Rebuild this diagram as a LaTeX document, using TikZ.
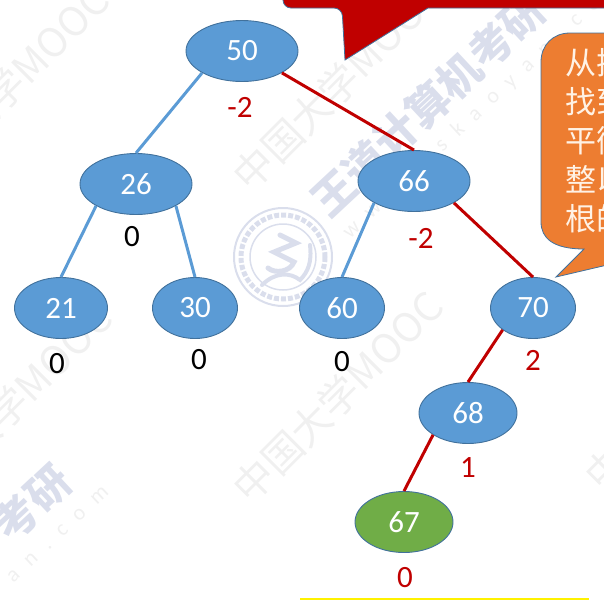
\documentclass[tikz,border=0pt]{standalone}
\usepackage{fontspec}
\usetikzlibrary{shapes.geometric}
\setmainfont{Carlito}
\newfontfamily\cjk{Noto Sans CJK SC}
\newfontfamily\urlfont[LetterSpace=60]{Carlito}
\definecolor{nodeblue}{RGB}{91,155,213}
\definecolor{nodeedge}{RGB}{65,113,156}
\definecolor{nodegreen}{RGB}{112,173,71}
\definecolor{calloutorange}{RGB}{237,125,49}
\definecolor{darkred}{RGB}{192,0,0}
\definecolor{wmgrey}{RGB}{240,240,240}
\definecolor{wmblue}{RGB}{218,222,236}
\tikzset{
  treenode/.style={ellipse,draw=nodeedge,line width=0.9pt,fill=nodeblue,text=white,font=\fontsize{31}{31}\selectfont,inner sep=0pt},
  blueedge/.style={draw=nodeblue,line width=3pt},
  rededge/.style={draw=darkred,line width=3pt},
  redlabel/.style={text=darkred,font=\fontsize{31}{31}\selectfont,inner sep=0pt},
  blacklabel/.style={text=black,font=\fontsize{31}{31}\selectfont,inner sep=0pt},
  wmthin/.style={text=wmgrey,font=\cjk\fontsize{40}{40}\selectfont,rotate=45,inner sep=0pt},
  wmbold/.style={text=wmblue,font=\cjk\bfseries\fontsize{43}{43}\selectfont,rotate=43,inner sep=0pt},
  wmurl/.style={text=wmgrey,font=\urlfont\fontsize{22}{22}\selectfont,rotate=43,inner sep=0pt},
  callouttext/.style={text=white!90!orange,font=\cjk\fontsize{31}{39}\selectfont,anchor=north west,align=left,inner sep=0pt}
}
\begin{document}
\begin{tikzpicture}[x=1pt,y=-1pt]
\useasboundingbox (0,0) rectangle (604,600);
\clip (0,0) rectangle (604,600);
% watermarks
\node[wmthin] (w1) at (338,397) {中国大学MOOC};
\node[wmthin] (w2) at (338,85) {中国大学MOOC};
\node[wmthin] (w3) at (32,62) {大学MOOC};
\node[wmthin] (w4) at (690,385) {中国大学MOOC};
\node[wmthin] (w5) at (35,380) {大学MOOC};
\node[wmbold] (w6) at (428,105) {王道计算机考研};
\node[wmbold] (w7) at (32,503) {考研};
\node[wmurl] (w8) at (483,107) {www.cskaoyan.com};
\node[wmurl] (w9) at (58,535) {an.com};
% emblem
\draw[wmblue,line width=2pt] (283,257) circle (49);
\draw[wmblue,line width=5pt,dotted] (283,257) circle (42);
\draw[wmblue,line width=1.5pt] (283,257) circle (33);
\draw[wmblue,line width=5pt,line cap=round] (280,235) -- (296,243) -- (274,252) -- (294,262) .. controls (290,272) and (275,274) .. (268,268);
\draw[wmblue,line width=4pt,line cap=round] (262,285) .. controls (275,272) and (290,272) .. (300,280) .. controls (308,272) and (312,262) .. (310,245);
% red callout
\fill[darkred,draw=nodeedge,line width=0.8pt,rounded corners=8pt] (283,-20) -- (283,8) -- (342,8) [sharp corners] -- (345,60) -- (428,8) -- (620,8) -- (620,-20) -- cycle;
% orange callout
\draw[fill=calloutorange,draw=nodeedge,line width=0.8pt] (620,33) -- (570,33) .. controls (553,33) and (541,45) .. (541,62) -- (541,222) .. controls (541,238) and (553,249) .. (584,249) -- (556,277) -- (620,262) -- cycle;
\node[callouttext] (c1) at (565,48) {从插\\找到\\平衡\\整以\\根的};
% nodes
\node[treenode,minimum width=112pt,minimum height=61pt] (n50) at (242,51) {50};
\node[treenode,minimum width=112pt,minimum height=61pt] (n26) at (136,184) {26};
\node[treenode,minimum width=112pt,minimum height=61pt] (n66) at (414,181) {66};
\node[treenode,minimum width=93pt,minimum height=61pt] (n21) at (61,308) {21};
\node[treenode,minimum width=85pt,minimum height=61pt] (n30) at (195,308) {30};
\node[treenode,minimum width=85pt,minimum height=61pt] (n60) at (342,308) {60};
\node[treenode,minimum width=85pt,minimum height=61pt] (n70) at (533,308) {70};
\node[treenode,minimum width=98pt,minimum height=61pt] (n68) at (468,413) {68};
\node[treenode,fill=nodegreen,minimum width=98pt,minimum height=61pt] (n67) at (404,522) {67};
% edges
\draw[blueedge] (n50.south west) -- (n26.north);
\draw[rededge] (n50.south east) -- (n66.north);
\draw[blueedge] (n26.south west) -- (n21.north);
\draw[blueedge] (n26.south east) -- (n30.north);
\draw[blueedge] (n66.south west) -- (n60.north);
\draw[rededge] (n66.south east) -- (n70.north);
\draw[rededge] (n70.south west) -- (n68.north);
\draw[rededge] (n68.south west) -- (n67.north);
% labels
\node[redlabel] (l50) at (240,107) {-2};
\node[blacklabel] (l26) at (132,237) {0};
\node[redlabel] (l66) at (421,238) {-2};
\node[blacklabel] (l21) at (57,364) {0};
\node[blacklabel] (l30) at (199,360) {0};
\node[blacklabel] (l60) at (342,362) {0};
\node[redlabel] (l70) at (533,360) {2};
\node[redlabel] (l68) at (468,468) {1};
\node[redlabel] (l67) at (405,578) {0};
% yellow bottom rule
\draw[yellow,line width=2pt] (300,599) -- (589,599);
\end{tikzpicture}
\end{document}
